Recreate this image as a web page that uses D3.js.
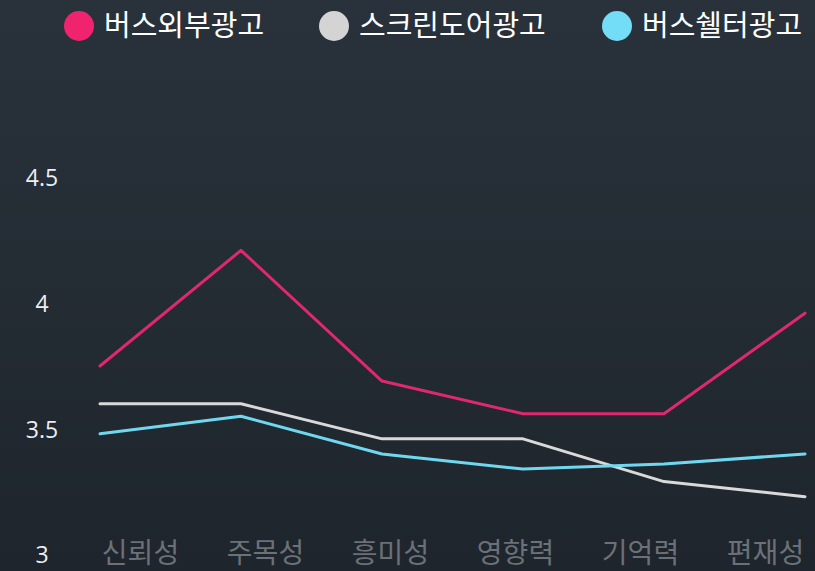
<!DOCTYPE html>
<html lang="ko">
  <head>
    <meta charset="UTF-8" />
    <title>광고 매체별 평가</title>
    <script src="https://cdn.jsdelivr.net/npm/d3@7"></script>
    <style>
      html, body { margin: 0; padding: 0; background: #232b33; }
      svg { display: block; }
    </style>
  </head>
  <body>
    <div class="chart"></div>
    <script>
    var categories = ["신뢰성", "주목성", "흥미성", "영향력", "기억력", "편재성"];
    var seriesNames = ["버스외부광고", "스크린도어광고", "버스쉘터광고"];
    var busOutside = [3.76, 4.22, 3.70, 3.57, 3.57, 3.97];
    var screenDoor = [3.61, 3.61, 3.47, 3.47, 3.30, 3.24];
    var busShelter = [3.49, 3.56, 3.41, 3.35, 3.37, 3.41];
    var yTicks = [3, 3.5, 4, 4.5];
    var yTickLabels = ["3", "3.5", "4", "4.5"];

    var w = 815, h = 571;
    var lineColors = ["#e0286e", "#d9d9d9", "#6fd8f0"];
    var dotColors = ["#f0246e", "#d4d4d4", "#73dcf6"];

    var svg = d3.select(".chart").append("svg")
                .attr("width", w)
                .attr("height", h);

    var grad = svg.append("defs").append("linearGradient")
                  .attr("id", "bg")
                  .attr("x1", 0).attr("y1", 0)
                  .attr("x2", 0).attr("y2", 1);
    grad.append("stop").attr("offset", "0%").attr("stop-color", "#29323b");
    grad.append("stop").attr("offset", "100%").attr("stop-color", "#1e252c");

    svg.append("rect")
       .attr("width", w)
       .attr("height", h)
       .attr("fill", "url(#bg)");

    var y = d3.scaleLinear().domain([3, 4.5]).range([557, 180]);
    var xLine = d3.scalePoint().domain(categories).range([100, 805]);
    var xLabel = d3.scaleBand().domain(categories).range([78, 828]);

    // y axis labels
    var yAxis = d3.axisLeft(y).tickValues(yTicks)
                  .tickFormat(function(d, i) { return yTickLabels[i]; })
                  .tickSize(0);
    var yg = svg.append("g").attr("transform", "translate(42,0)").call(yAxis);
    yg.select(".domain").remove();
    yg.selectAll("text")
      .attr("x", 0)
      .attr("dy", "0.26em")
      .attr("text-anchor", "middle")
      .attr("fill", "#eceeef")
      .style("font-family", "'Open Sans', 'Noto Sans', sans-serif")
      .style("font-size", "23px");

    // x axis labels
    var xAxis = d3.axisBottom(xLabel).tickSize(0);
    var xg = svg.append("g").attr("transform", "translate(0,553)").call(xAxis);
    xg.select(".domain").remove();
    xg.selectAll("text")
      .attr("y", 0)
      .attr("dy", "0.36em")
      .attr("fill", "#6b7177")
      .style("font-family", "'Noto Sans CJK KR', sans-serif")
      .style("font-size", "28px");

    var line = d3.line()
                 .x(function(d, i) { return xLine(categories[i]); })
                 .y(function(d) { return y(d); });

    var allSeries = [busOutside, screenDoor, busShelter];

    svg.selectAll("path.series")
       .data(allSeries)
       .enter().append("path")
       .attr("class", "series")
       .attr("d", line)
       .attr("fill", "none")
       .attr("stroke", function(d, i) { return lineColors[i]; })
       .attr("stroke-width", 3)
       .attr("stroke-linecap", "round")
       .attr("stroke-linejoin", "round");

    // legend
    var legendX = [79, 334, 617];
    var legend = svg.selectAll("g.legend")
                    .data(seriesNames)
                    .enter().append("g")
                    .attr("class", "legend")
                    .attr("transform", function(d, i) { return "translate(" + legendX[i] + ",26)"; });

    legend.append("circle")
          .attr("r", 15)
          .attr("fill", function(d, i) { return dotColors[i]; });

    legend.append("text")
          .attr("x", 25)
          .attr("dy", "0.36em")
          .attr("fill", "#ffffff")
          .style("font-family", "'Noto Sans CJK KR', sans-serif")
          .style("font-size", "29px")
          .style("font-weight", 400)
          .text(function(d) { return d; });
    </script>
  </body>
</html>
